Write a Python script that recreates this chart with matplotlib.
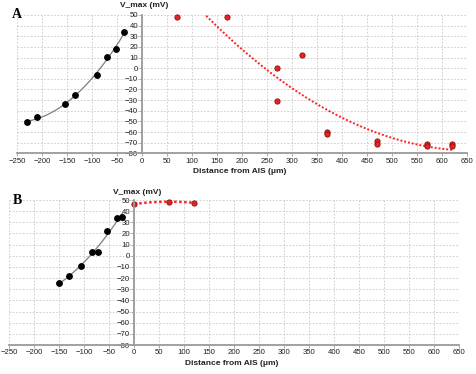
import numpy as np
import matplotlib
matplotlib.use("Agg")
import matplotlib.pyplot as plt

plt.rcParams["font.family"] = ["Liberation Sans", "DejaVu Sans"]

# panel A
a_black_x = [-230, -210, -155, -135, -90, -70, -53, -36]
a_black_y = [-51, -46, -34, -25, -6, 10.5, 18, 34]
a_red_x = [70, 170, 270, 270, 320, 370, 370, 470, 470, 570, 570, 620, 620]
a_red_y = [48, 48, 0, -31, 12, -60, -62, -68, -71, -71, -73, -71, -73]
# red trendline
a_trend_x = [125, 201, 268, 361, 454, 553, 620]
a_trend_y = [49, 20, -8, -38, -58, -72.5, -76]

# panel B
b_black_x = [-150, -130, -106, -85, -73, -54, -35, -24]
b_black_y = [-24.5, -18, -9, 3, 3.5, 22.5, 33.5, 35]
b_red_x = [0, 70, 120]
b_red_y = [46.5, 48.5, 47.5]

x_ticks = list(range(-250, 651, 50))
y_ticks = list(range(-80, 51, 10))

GRID = "#c8c8c8"
AXIS = "#9a9a9a"
TICK_FS = 5.6


def style_axes(ax, ylabel_y):
    ax.set_xlim(-250, 650)
    ax.set_ylim(-80, 50)
    ax.set_xticks(x_ticks)
    ax.set_yticks(y_ticks)
    ax.grid(True, color=GRID, linestyle=(0, (2, 2)), linewidth=0.6)
    ax.set_axisbelow(True)
    ax.spines["left"].set_position(("data", 0))
    ax.spines["left"].set_color(AXIS)
    ax.spines["left"].set_linewidth(1.3)
    ax.spines["bottom"].set_color(AXIS)
    ax.spines["bottom"].set_linewidth(1.3)
    ax.spines["top"].set_visible(False)
    ax.spines["right"].set_visible(False)
    ax.tick_params(axis="both", labelsize=TICK_FS, colors="#222222",
                   length=2, width=0.6, pad=1)
    ax.tick_params(axis="both", color=AXIS)
    ax.text(5, ylabel_y, "V_max (mV)", fontsize=6, fontweight="bold",
            color="#222222", ha="center", va="center")
    ax.text(195, -97, "Distance from AIS (μm)", fontsize=6, fontweight="bold",
            color="#222222", ha="center", va="center", clip_on=False)


def trend(ax, xs, ys, deg, x0, x1, color, ls, lw):
    coef = np.polyfit(xs, ys, deg)
    xx = np.linspace(x0, x1, 200)
    ax.plot(xx, np.polyval(coef, xx), color=color, linestyle=ls, linewidth=lw)


fig = plt.figure(figsize=(4.76, 3.74), dpi=100)

axA = fig.add_axes([0.0363, 0.590, 0.9447, 0.370])
style_axes(axA, 59)
trend(axA, a_black_x, a_black_y, 2, min(a_black_x), max(a_black_x), "#7f7f7f", "-", 0.9)
trend(axA, a_trend_x, a_trend_y, 2, min(a_red_x), max(a_red_x), "#ff2020", (0, (1, 1)), 1.4)
axA.plot(a_black_x, a_black_y, "o", color="black", markersize=3.9, clip_on=False)
axA.plot(a_red_x, a_red_y, "o", markerfacecolor="#e8231f", markeredgecolor="#8a1010",
         markeredgewidth=0.6, markersize=3.8, linestyle="none", clip_on=False)
fig.text(0.036, 0.978, "A", fontsize=10, fontweight="bold",
         family="Liberation Serif", va="top", ha="center")

axB = fig.add_axes([0.0195, 0.0775, 0.945, 0.3877])
style_axes(axB, 57)
trend(axB, b_black_x, b_black_y, 2, min(b_black_x), max(b_black_x), "#7f7f7f", "-", 0.9)
trend(axB, b_red_x, b_red_y, 2, min(b_red_x), max(b_red_x), "#ff2020", (0, (1, 1)), 1.8)
axB.plot(b_black_x, b_black_y, "o", color="black", markersize=3.9, clip_on=False)
axB.plot(b_red_x, b_red_y, "o", markerfacecolor="#e8231f", markeredgecolor="#8a1010",
         markeredgewidth=0.6, markersize=3.8, linestyle="none", clip_on=False)
fig.text(0.036, 0.465, "B", fontsize=10, fontweight="bold",
         family="Liberation Serif", va="center", ha="center")

fig.savefig("out.png", dpi=100)
